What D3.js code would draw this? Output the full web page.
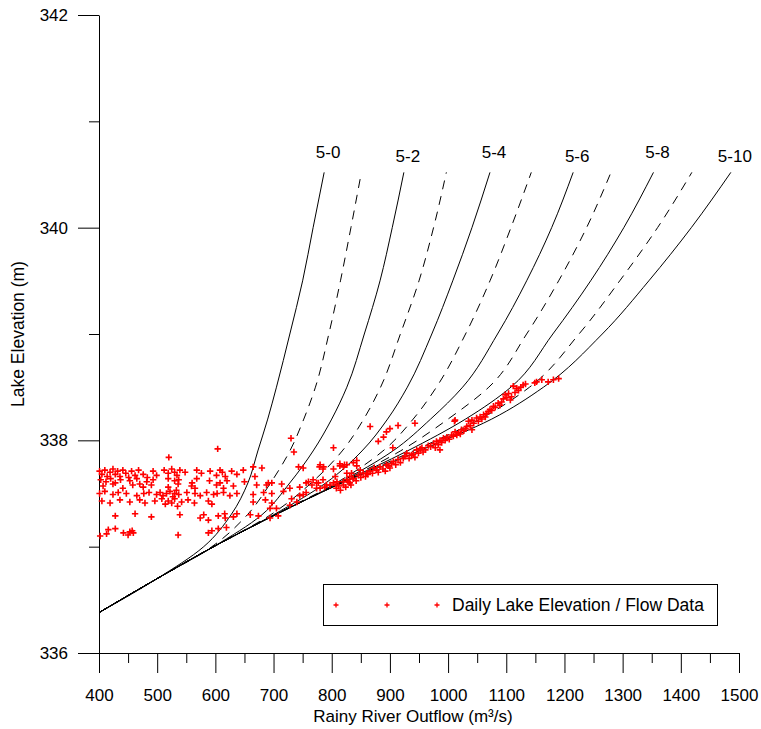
<!DOCTYPE html>
<html>
<head>
<meta charset="utf-8">
<script src="https://cdn.jsdelivr.net/npm/d3@7/dist/d3.min.js"></script>
<style>
  html, body { margin: 0; padding: 0; background: #fff; }
  svg { display: block; }
  text { font-family: "Liberation Sans", Arial, Helvetica, sans-serif; fill: #000; }
</style>
</head>
<body>
<svg id="chart" width="761" height="729"></svg>
<script>
// Lake elevation levels (m) at which each rating curve is tabulated
const levels = [336.38, 336.7, 337.0, 337.3, 337.6, 337.9, 338.2, 338.5, 339.0, 339.5, 340.0, 340.52];

// Outflow (m3/s) of each gate-setting rating curve at the levels above
const q5_0  = [400, 500, 580, 627, 656, 673, 690, 705, 728, 750, 768, 787];
const q5_1  = [400, 500, 594, 655, 695, 728, 752, 772, 795, 815, 833, 851];
const q5_2  = [400, 500, 597, 680, 728, 768, 800, 826, 856, 883, 904, 924];
const q5_3  = [400, 500, 597, 695, 765, 818, 855, 884, 918, 950, 975, 997];
const q5_4  = [400, 500, 597, 700, 790, 852, 896, 930, 972, 1008, 1041, 1072];
const q5_5  = [400, 500, 597, 702, 808, 888, 940, 980, 1030, 1072, 1108, 1143];
const q5_6  = [400, 500, 597, 703, 812, 905, 970, 1025, 1085, 1135, 1178, 1215];
const q5_7  = [400, 500, 597, 703, 814, 918, 1000, 1070, 1135, 1190, 1238, 1280];
const q5_8  = [400, 500, 597, 703, 816, 930, 1030, 1108, 1180, 1245, 1302, 1353];
const q5_9  = [400, 500, 597, 703, 817, 940, 1055, 1140, 1225, 1295, 1360, 1419];
const q5_10 = [400, 500, 597, 703, 818, 950, 1075, 1164, 1265, 1345, 1418, 1486];

const curveNames = ["5-0", "5-1", "5-2", "5-3", "5-4", "5-5", "5-6", "5-7", "5-8", "5-9", "5-10"];
const curveFlows = [q5_0, q5_1, q5_2, q5_3, q5_4, q5_5, q5_6, q5_7, q5_8, q5_9, q5_10];
const labelledCurves = ["5-0", "5-2", "5-4", "5-6", "5-8", "5-10"];

// Daily observations [outflow m3/s, elevation m]
const obsLowFlow = [
  [401,337.71],[405,337.68],[410,337.72],[414,337.66],[419,337.70],[424,337.73],[428,337.68],[432,337.71],
  [436,337.66],[441,337.72],[446,337.69],[451,337.65],[456,337.71],[462,337.67],[468,337.72],[476,337.68],
  [483,337.65],[493,337.71],[499,337.67],[512,337.72],[519,337.69],[525,337.73],[530,337.70],[534,337.67],
  [539,337.72],[548,337.70],[568,337.72],[576,337.69],[591,337.71],[602,337.67],[608,337.72],[612,337.70],
  [617,337.66],[628,337.71],[637,337.68],[648,337.72],
  [403,337.63],[412,337.61],[420,337.64],[428,337.60],[437,337.63],[453,337.62],[465,337.64],[470,337.59],
  [482,337.61],[493,337.63],[519,337.64],[530,337.62],[537,337.63],[560,337.60],[568,337.64],[590,337.62],
  [608,337.60],[620,337.62],[650,337.61],
  [407,337.57],[424,337.59],[441,337.55],[458,337.58],[476,337.56],[490,337.58],[519,337.56],[536,337.59],
  [559,337.57],[565,337.55],[602,337.58],[614,337.55],[631,337.57],
  [401,337.50],[410,337.52],[424,337.49],[433,337.51],[447,337.50],[465,337.48],[477,337.50],[486,337.51],
  [499,337.49],[505,337.51],[510,337.48],[516,337.50],[522,337.52],[527,337.47],[530,337.50],[533,337.53],
  [537,337.49],[551,337.51],[565,337.50],[574,337.48],[585,337.51],[597,337.49],[603,337.50],[614,337.51],
  [625,337.48],[637,337.50],
  [405,337.43],[419,337.41],[436,337.44],[453,337.42],[470,337.44],[479,337.41],[496,337.43],[508,337.45],
  [514,337.40],[519,337.43],[525,337.41],[530,337.45],[535,337.38],[542,337.42],[553,337.44],[564,337.41],
  [588,337.43],[594,337.40],
  [428,337.29],[462,337.31],[490,337.28],[539,337.30],[574,337.27],[580,337.30],[588,337.25],[605,337.29],
  [616,337.31],[617,337.27],[631,337.28],[637,337.31],
  [402,337.10],[413,337.12],[416,337.16],[428,337.17],[442,337.13],[450,337.11],[453,337.14],[457,337.15],
  [459,337.13],[536,337.11],[588,337.13],[594,337.15],[605,337.17],[619,337.18],
  [520,337.84],[604,337.92]
];

const obsRising = [
  [665,337.75],[680,337.74],[668,337.66],[688,337.58],[697,337.60],[714,337.59],[728,337.55],[743,337.75],
  [751,337.74],[717,337.52],[731,337.45],[740,337.42],[760,337.61],[766,337.58],[774,337.60],[780,337.77],
  [786,337.75],[780,337.55],[788,337.56],[797,337.58],[806,337.66],[809,337.61],[814,337.78],[820,337.75],
  [826,337.77],[834,337.69],[843,337.81],[837,337.64],[849,337.72],[860,337.69],[751,337.49],[728,337.39],
  [705,337.36],[694,337.36],[665,337.49],[683,337.51],[697,337.50],[665,337.42],[686,337.44],[697,337.41],
  [660,337.30],[674,337.29],[694,337.27],[708,337.29],[671,337.58],[691,337.60],
  [745,337.56],[756,337.60],[768,337.63],[777,337.60],[785,337.63],[803,337.60],[820,337.61],[831,337.66],
  [779,337.75],[785,337.73],[803,337.73],[814,337.76],[822,337.77],[837,337.79],[843,337.76],[826,337.69],
  [745,337.48],[756,337.51],[774,337.55],[791,337.58],[808,337.58],
  [730,338.02],[735,337.89]
];

const obsHighFlow = [
  [820,337.58],[826,337.63],[831,337.60],[837,337.64],[846,337.67],[854,337.69],[866,337.71],[877,337.72],
  [883,337.75],[894,337.77],[900,337.74],[906,337.80],[914,337.82],[923,337.83],[929,337.88],[937,337.86],
  [946,337.91],[952,337.92],[957,337.89],[966,337.95],[975,337.97],[980,337.99],[986,338.00],[992,338.02],
  [998,338.03],[1006,338.05],[1012,338.08],[1018,338.07],[1023,338.10],[1032,338.13],[1035,338.18],[1041,338.19],
  [1049,338.21],[1055,338.22],[1061,338.24],[1066,338.25],[1072,338.29],[1078,338.32],[1086,338.35],[1092,338.36],
  [1098,338.43],[1104,338.44],[1109,338.41],[1112,338.51],[1121,338.47],[1129,338.52],[1149,338.54],[1152,338.55],
  [1161,338.57],[1172,338.55],[1181,338.57],[1190,338.58],
  [808,337.55],[812,337.57],[815,337.53],[824,337.56],[828,337.61],[833,337.58],[842,337.62],[850,337.65],
  [858,337.66],[862,337.68],[870,337.69],[873,337.74],[880,337.70],[888,337.73],[892,337.71],[897,337.76],
  [903,337.78],[910,337.77],[918,337.79],[926,337.85],[933,337.83],[940,337.87],[943,337.84],[949,337.88],
  [955,337.93],[961,337.91],[970,337.94],[978,337.93],[983,337.96],[989,337.98],[995,338.00],[1002,338.01],
  [1009,338.04],[1015,338.05],[1021,338.06],[1027,338.09],[1030,338.11],[1038,338.14],[1044,338.16],[1052,338.18],
  [1058,338.20],[1064,338.22],[1069,338.27],[1075,338.28],[1081,338.31],[1089,338.33],[1095,338.39],[1101,338.40],
  [1107,338.38],[1115,338.45],[1118,338.49],[1125,338.50],[1133,338.53],
  [866,338.13],[880,337.99],[889,338.03],[894,338.08],[900,338.11],[914,338.14],[943,338.16],[1012,338.19],
  [905,337.93],[803,337.93],[1011,338.18],[986,337.91],[1041,338.10]
];

const xTicks = [400, 500, 600, 700, 800, 900, 1000, 1100, 1200, 1300, 1400, 1500];
const xMinorTicks = [450, 550, 650, 750, 850, 950, 1050, 1150, 1250, 1350, 1450];
const yTicks = [336, 338, 340, 342];
const yMinorTicks = [337, 339, 341];

const xTitle = "Rainy River Outflow (m\u00B3/s)";
const yTitle = "Lake Elevation (m)";
const legendText = "Daily Lake Elevation / Flow Data";

const svg = d3.select("#chart");
const x = d3.scaleLinear().domain([400, 1500]).range([99, 739]);
const y = d3.scaleLinear().domain([336, 342]).range([653, 15]);

// Axes
const xAxisG = svg.append("g").attr("transform", "translate(0,653)");
xAxisG.call(d3.axisBottom(x).tickValues(xTicks).tickSize(20).tickSizeOuter(0).tickPadding(16).tickFormat(d3.format("d")));
const xMinorG = svg.append("g").attr("transform", "translate(0,653)");
xMinorG.call(d3.axisBottom(x).tickValues(xMinorTicks).tickSize(10).tickSizeOuter(0).tickFormat(""));
xMinorG.select(".domain").remove();

const yAxisG = svg.append("g").attr("transform", "translate(99,0)");
yAxisG.call(d3.axisLeft(y).tickValues(yTicks).tickSize(21).tickSizeOuter(0).tickPadding(10).tickFormat(d3.format("d")));
const yMinorG = svg.append("g").attr("transform", "translate(99,0)");
yMinorG.call(d3.axisLeft(y).tickValues(yMinorTicks).tickSize(10).tickSizeOuter(0).tickFormat(""));
yMinorG.select(".domain").remove();

svg.selectAll(".tick text").attr("font-size", 17).attr("font-family", "Liberation Sans, Arial, sans-serif").attr("fill", "#000");
svg.selectAll(".domain, .tick line").attr("stroke", "#000").attr("stroke-width", 1);

svg.append("text").attr("x", 413).attr("y", 722).attr("text-anchor", "middle")
  .attr("font-size", 17).text(xTitle);
svg.append("text").attr("transform", "translate(24,334) rotate(-90)").attr("text-anchor", "middle")
  .attr("font-size", 17.5).text(yTitle);

// Rating curves
const line = d3.line().x(d => x(d[0])).y(d => y(d[1])).curve(d3.curveMonotoneY);
const curves = curveNames.map((name, i) => ({
  name, dashed: i % 2 === 1,
  pts: curveFlows[i].map((q, j) => [q, levels[j]])
}));

svg.append("g").selectAll("path").data(curves).join("path")
  .attr("d", d => line(d.pts))
  .attr("fill", "none").attr("stroke", "#000").attr("stroke-width", 1)
  .attr("stroke-dasharray", d => d.dashed ? "9,7" : null);

// Curve labels above the top end of each solid curve
const labelled = curves.filter(c => labelledCurves.includes(c.name));
svg.append("g").selectAll("text").data(labelled).join("text")
  .attr("x", d => x(d.pts[d.pts.length - 1][0]) + 4)
  .attr("y", (d, i) => y(d.pts[d.pts.length - 1][1]) - (i % 2 === 1 ? 10 : 14))
  .attr("text-anchor", "middle").attr("font-size", 17).text(d => d.name);

// Observations
const cross = "M-3.2,0H3.2M0,-3.2V3.2";
const obs = obsLowFlow.concat(obsRising, obsHighFlow);
svg.append("g").selectAll("path").data(obs).join("path")
  .attr("transform", d => `translate(${x(d[0])},${y(d[1])})`)
  .attr("d", cross).attr("stroke", "#ff0000").attr("stroke-width", 1.6).attr("fill", "none");

// Legend
const lg = svg.append("g");
lg.append("rect").attr("x", 323.5).attr("y", 584.5).attr("width", 394).attr("height", 41)
  .attr("fill", "#fff").attr("stroke", "#000").attr("stroke-width", 1);
lg.selectAll("path").data([336, 387, 437]).join("path")
  .attr("transform", d => `translate(${d},605)`)
  .attr("d", "M-2.5,0H2.5M0,-2.5V2.5").attr("stroke", "#ff0000").attr("stroke-width", 1.3);
lg.append("text").attr("x", 452).attr("y", 611).attr("font-size", 17.5).text(legendText);
</script>
</body>
</html>
